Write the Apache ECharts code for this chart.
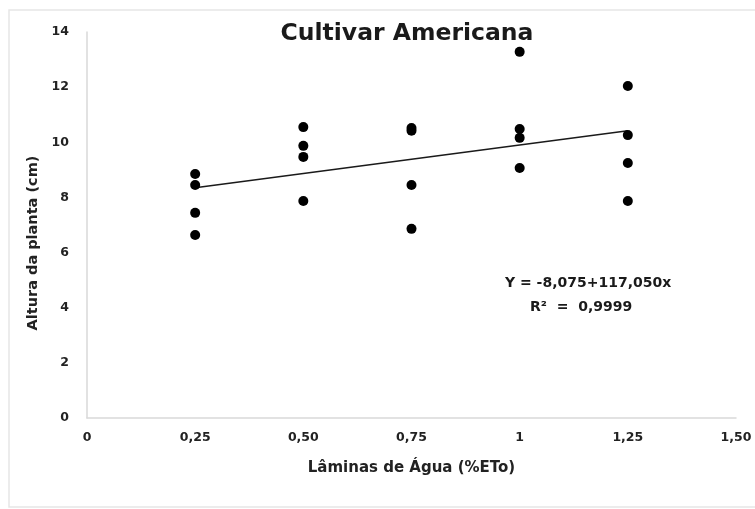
<!DOCTYPE html>
<html>
<head>
<meta charset="utf-8">
<script src="https://cdn.jsdelivr.net/npm/echarts@6/dist/echarts.min.js"></script>
<style>
  html, body { margin: 0; padding: 0; background: #fff; }
  #chart { width: 755px; height: 509px; }
</style>
</head>
<body>
<div id="chart"></div>
<script>
// lâminas de água (x) e altura da planta (y)
const laminas = [0.25, 0.25, 0.25, 0.25,
                 0.5, 0.5, 0.5, 0.5,
                 0.75, 0.75, 0.75, 0.75,
                 1, 1, 1, 1,
                 1.25, 1.25, 1.25, 1.25];
const alturas = [8.85, 8.45, 7.44, 6.64,
                 10.55, 9.87, 9.47, 7.87,
                 10.52, 10.42, 8.45, 6.86,
                 13.28, 10.48, 10.16, 9.07,
                 12.04, 10.26, 9.25, 7.87];

// linha de tendência (pontos extremos)
const trendX = [0.25, 1.25];
const trendY = [8.35, 10.42];

const xTickLabels = ['0', '0,25', '0,50', '0,75', '1', '1,25', '1,50'];
const yTickLabels = ['0', '2', '4', '6', '8', '10', '12', '14'];

const FONT = '"DejaVu Sans", "Liberation Sans", Arial, sans-serif';
const fontBold = { fontFamily: FONT, fontWeight: 'bold', color: '#222' };

let pontos = laminas.map((x, i) => [x, alturas[i]]);
let tendencia = trendX.map((x, i) => [x, trendY[i]]);

let options = {
    backgroundColor: '#fff',
    animation: false,
    title: {
        text: 'Cultivar Americana',
        left: 402,
        top: 17,
        textAlign: 'center',
        textStyle: { fontFamily: FONT, fontWeight: 'bold', fontSize: 23.5, color: '#1a1a1a' }
    },
    grid: {
        left: 87,
        right: 19,
        top: 32,
        bottom: 91
    },
    xAxis: {
        type: 'value',
        min: 0,
        max: 1.5,
        interval: 0.25,
        name: 'Lâminas de Água (%ETo)',
        nameLocation: 'middle',
        nameGap: 43,
        nameTextStyle: Object.assign({ fontSize: 15 }, fontBold),
        axisLine: { show: true, lineStyle: { color: '#d9d9d9', width: 1.5 } },
        axisTick: { show: false },
        splitLine: { show: false },
        axisLabel: Object.assign({
            fontSize: 12.5,
            margin: 13,
            formatter: (v) => xTickLabels[Math.round(v / 0.25)]
        }, fontBold)
    },
    yAxis: {
        type: 'value',
        min: 0,
        max: 14,
        interval: 2,
        name: 'Altura da planta (cm)',
        nameLocation: 'middle',
        nameGap: 42,
        nameTextStyle: Object.assign({ fontSize: 14.5, padding: [0, 36, 0, 0] }, fontBold),
        axisLine: { show: true, lineStyle: { color: '#d9d9d9', width: 1.5 } },
        axisTick: { show: false },
        splitLine: { show: false },
        axisLabel: Object.assign({
            fontSize: 12.5,
            margin: 18,
            formatter: (v) => yTickLabels[Math.round(v / 2)]
        }, fontBold)
    },
    graphic: [
        {
            type: 'rect',
            shape: { x: 9, y: 10, width: 760, height: 497 },
            style: { fill: 'none', stroke: '#e6e6e6', lineWidth: 1.5 },
            silent: true
        },
        {
            type: 'text',
            left: 505,
            top: 276,
            style: {
                text: 'Y = -8,075+117,050x',
                font: 'bold 14px ' + FONT,
                fill: '#1a1a1a'
            }
        },
        {
            type: 'text',
            left: 530,
            top: 300,
            style: {
                text: 'R²  =  0,9999',
                font: 'bold 14px ' + FONT,
                fill: '#1a1a1a'
            }
        }
    ],
    series: [
        {
            type: 'line',
            data: tendencia,
            symbol: 'none',
            lineStyle: { color: '#1a1a1a', width: 1.5 },
            z: 2
        },
        {
            type: 'scatter',
            data: pontos,
            symbol: 'circle',
            symbolSize: 10,
            itemStyle: { color: '#000', opacity: 1 },
            z: 3
        }
    ]
};

let chart = echarts.init(document.getElementById('chart'));
chart.setOption(options);
</script>
</body>
</html>
